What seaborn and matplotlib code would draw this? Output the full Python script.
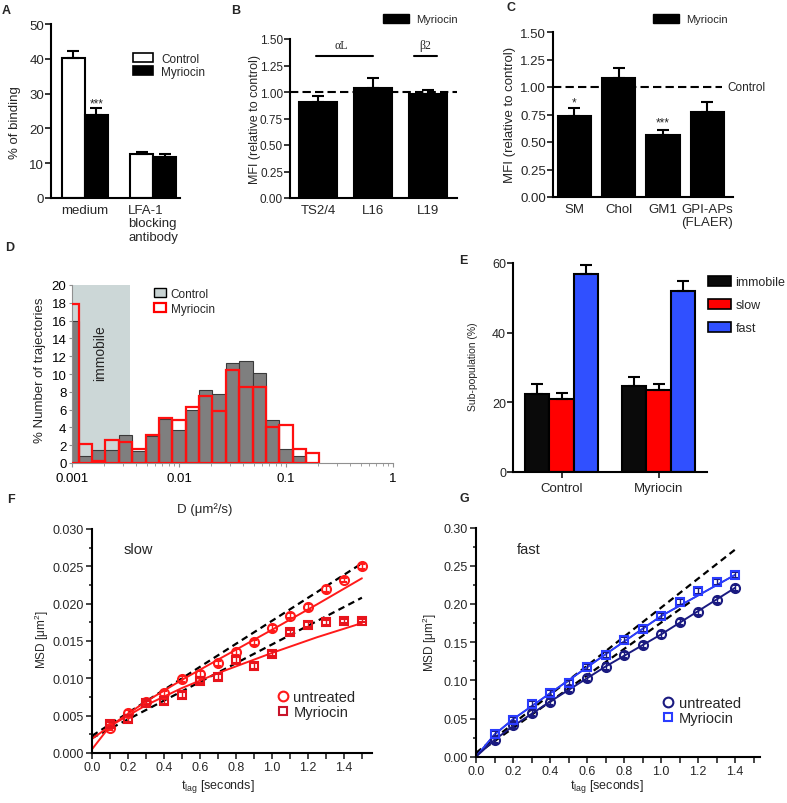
import numpy as np
import pandas as pd
import matplotlib
matplotlib.use("Agg")
import matplotlib.pyplot as plt
import seaborn as sns
from matplotlib.patches import Patch
from matplotlib.lines import Line2D
from matplotlib.ticker import MultipleLocator, FixedLocator, FixedFormatter, FormatStrFormatter

# ------------------------------------------------------------
# Data
# ------------------------------------------------------------
# A - binding
a_groups = ['medium', 'LFA-1\nblocking\nantibody']
a_control = [40.1, 12.6]
a_control_err = [2.0, 0.5]
a_myriocin = [23.8, 11.9]
a_myriocin_err = [2.0, 0.65]

# B - integrin antibodies
b_labels = ['TS2/4', 'L16', 'L19']
b_values = [0.91, 1.035, 0.98]
b_err = [0.05, 0.095, 0.04]

# C - lipids
c_labels = ['SM', 'Chol', 'GM1', 'GPI-APs\n(FLAER)']
c_values = [0.74, 1.08, 0.56, 0.77]
c_err = [0.07, 0.09, 0.045, 0.095]

# D - histogram of diffusion coefficients (8 bins per decade)
d_control = [15.9, 0.75, 1.5, 1.5, 3.1, 1.4, 3.0, 5.0, 3.7, 5.9, 8.25, 7.8,
             11.2, 11.5, 10.1, 4.8, 1.6, 0.8, 0.0]
d_myriocin = [17.9, 2.1, 0.2, 2.6, 2.4, 1.6, 3.1, 5.1, 4.85, 6.3, 7.5, 5.8,
              10.5, 8.5, 8.5, 4.1, 4.3, 1.6, 1.1]

# E - sub-populations
e_groups = ['Control', 'Myriocin']
e_kinds = ['immobile', 'slow', 'fast']
e_immobile = [22.3, 24.6]
e_immobile_err = [3.0, 2.6]
e_slow = [20.9, 23.4]
e_slow_err = [1.9, 2.0]
e_fast = [56.9, 52.1]
e_fast_err = [2.4, 2.6]

# F - MSD slow
f_t = [0.1, 0.2, 0.3, 0.4, 0.5, 0.6, 0.7, 0.8, 0.9, 1.0, 1.1, 1.2, 1.3, 1.4, 1.5]
f_untreated = [0.0034, 0.0053, 0.0068, 0.0080, 0.0099, 0.0106, 0.0120, 0.0135,
               0.0148, 0.0168, 0.0184, 0.0195, 0.0219, 0.0232, 0.0250]
f_untreated_err = [0.0003, 0.0004, 0.0003, 0.0003, 0.0004, 0.0004, 0.0003, 0.0004,
                   0.0004, 0.0004, 0.0003, 0.0004, 0.0004, 0.0003, 0.0003]
f_myriocin = [0.0039, 0.0045, 0.0067, 0.0069, 0.0078, 0.0097, 0.0102, 0.0124,
              0.0117, 0.0133, 0.0162, 0.0172, 0.0175, 0.0177, 0.0177]
f_myriocin_err = [0.0003, 0.0003, 0.0003, 0.0003, 0.0004, 0.0003, 0.0004, 0.0004,
                  0.0004, 0.0003, 0.0003, 0.0003, 0.0003, 0.0003, 0.0002]
f_fit_t = [0.0, 0.1, 0.3, 0.5, 0.7, 1.0, 1.25, 1.5]
f_fit_untreated = [0.0005, 0.0036, 0.0069, 0.0098, 0.0125, 0.0165, 0.0199, 0.0234]
f_fit_myriocin = [0.0019, 0.0036, 0.0064, 0.0087, 0.0107, 0.0134, 0.0155, 0.0174]
f_lin_t = [0.0, 1.5]
f_lin_untreated = [0.0023, 0.0254]
f_lin_myriocin = [0.0020, 0.0208]

# G - MSD fast
g_t = [0.1, 0.2, 0.3, 0.4, 0.5, 0.6, 0.7, 0.8, 0.9, 1.0, 1.1, 1.2, 1.3, 1.4]
g_untreated = [0.022, 0.041, 0.057, 0.072, 0.089, 0.103, 0.118, 0.133, 0.146,
               0.160, 0.176, 0.189, 0.205, 0.221]
g_untreated_err = [0.004, 0.004, 0.004, 0.004, 0.004, 0.004, 0.004, 0.004, 0.004,
                   0.004, 0.004, 0.004, 0.004, 0.004]
g_myriocin = [0.030, 0.048, 0.069, 0.083, 0.097, 0.117, 0.133, 0.153, 0.167,
              0.184, 0.203, 0.217, 0.229, 0.238]
g_myriocin_err = [0.004, 0.004, 0.004, 0.004, 0.004, 0.004, 0.004, 0.004, 0.004,
                  0.004, 0.004, 0.004, 0.004, 0.004]
g_fit_t = [0.0, 0.1, 0.2, 0.4, 0.7, 1.0, 1.4]
g_fit_untreated = [0.0, 0.022, 0.040, 0.072, 0.118, 0.160, 0.221]
g_fit_myriocin = [0.0, 0.029, 0.049, 0.083, 0.134, 0.184, 0.238]
g_lin1_t = [0.0, 1.4]
g_lin1 = [0.005, 0.271]
g_lin2_t = [0.0, 1.16]
g_lin2 = [0.003, 0.203]

# ------------------------------------------------------------
# Layout helpers (pixel -> figure fraction)
# ------------------------------------------------------------
W, H = 787, 804


def rect(l, t, r, b):
    return [l / W, 1 - b / H, (r - l) / W, (b - t) / H]


def fxy(x, y):
    return (x / W, 1 - y / H)


sns.set_style("ticks")
plt.rcParams['font.family'] = ['Liberation Sans', 'DejaVu Sans']
plt.rcParams['mathtext.fontset'] = 'custom'
plt.rcParams['mathtext.rm'] = 'Liberation Sans'
plt.rcParams['mathtext.it'] = 'Liberation Sans:italic'

fig = plt.figure(figsize=(7.87, 8.04), dpi=100)


def bar_axes(ax, ysize=9.5, xsize=9.5):
    sns.despine(ax=ax)
    for s in ['left', 'bottom']:
        ax.spines[s].set_linewidth(1.5)
        ax.spines[s].set_color('black')
    ax.tick_params(axis='y', direction='out', length=4, width=1.3, labelsize=ysize, pad=1)
    ax.tick_params(axis='x', length=0, labelsize=xsize, pad=4)
    ax.set_xlabel('')
    ax.set_ylabel('')


def add_errs(ax, containers, errs):
    for cont, ee in zip(containers, errs):
        for bar, e in zip(cont, ee):
            x = bar.get_x() + bar.get_width() / 2
            ax.errorbar(x, bar.get_height(), yerr=[[0], [e]], color='black',
                        capsize=4, capthick=1.5, elinewidth=1.5, zorder=1)


def letter(x, y, s):
    fig.text(*fxy(x, y), s, fontsize=9, fontweight='bold', ha='left', va='center')


def ylab(x, y, s, size):
    fig.text(*fxy(x, y), s, rotation=90, ha='center', va='center', fontsize=size)


# ============================================================
# A
# ============================================================
axA = fig.add_axes(rect(51, 25, 180, 199))
dfA = pd.DataFrame({
    'group': a_groups * 2,
    'treat': ['Control'] * 2 + ['Myriocin'] * 2,
    'value': a_control + a_myriocin,
})
sns.barplot(data=dfA, x='group', y='value', hue='treat',
            palette={'Control': 'white', 'Myriocin': 'black'},
            edgecolor='black', linewidth=1.5, width=0.67, saturation=1,
            errorbar=None, legend=False, ax=axA)
add_errs(axA, axA.containers, [a_control_err, a_myriocin_err])
axA.set_xlim(-0.49, 1.39)
axA.set_ylim(0, 50)
axA.set_yticks(range(0, 51, 10))
bar_axes(axA)
for lab in axA.get_xticklabels():
    lab.set_multialignment('left')
axA.text(0.17, 26.3, '***', ha='center', va='baseline', fontsize=8.5)
fig.legend(handles=[Patch(facecolor='white', edgecolor='black', lw=1.2, label='Control'),
                    Patch(facecolor='black', edgecolor='black', lw=1.2, label='Myriocin')],
           loc='upper left', bbox_to_anchor=fxy(133, 54), frameon=False, fontsize=8.5,
           borderpad=0, borderaxespad=0, handlelength=1.7, handleheight=0.8,
           handletextpad=0.7, labelspacing=0.05)
ylab(15, 123, '% of binding', 9.5)
letter(2, 11, 'A')

# ============================================================
# B
# ============================================================
axB = fig.add_axes(rect(290, 40, 457, 199))
sns.barplot(x=b_labels, y=b_values, color='black', width=0.69, saturation=1,
            edgecolor='black', linewidth=1.5, errorbar=None, ax=axB)
add_errs(axB, axB.containers, [b_err])
axB.axhline(1.0, color='black', lw=1.5, ls=(0, (4, 2)), zorder=0.5)
axB.set_xlim(-0.51, 2.53)
axB.set_ylim(0, 1.5)
axB.set_yticks(np.arange(0, 1.51, 0.25))
axB.yaxis.set_major_formatter(FormatStrFormatter('%.2f'))
bar_axes(axB, ysize=8.5)
axB.plot([-0.04, 1.0], [1.336, 1.336], color='black', lw=1.5)
axB.plot([1.745, 2.163], [1.336, 1.336], color='black', lw=1.5)
axB.text(0.42, 1.44, 'αL', family='Liberation Serif', ha='center', va='center', fontsize=8.5)
axB.text(1.95, 1.44, 'β2', family='Liberation Serif', ha='center', va='center', fontsize=8.5)
fig.legend(handles=[Patch(facecolor='black', edgecolor='black', label='Myriocin')],
           loc='upper left', bbox_to_anchor=fxy(383, 15), frameon=False, fontsize=8,
           borderpad=0, borderaxespad=0, handlelength=2.3, handleheight=0.9,
           handletextpad=0.7)
ylab(255, 120, 'MFI (relative to control)', 9)
letter(231, 11, 'B')

# ============================================================
# C
# ============================================================
axC = fig.add_axes(rect(553, 33, 733, 198))
sns.barplot(x=c_labels, y=c_values, color='black', width=0.75, saturation=1,
            edgecolor='black', linewidth=1.5, errorbar=None, ax=axC)
add_errs(axC, axC.containers, [c_err])
axC.set_xlim(-0.485, 3.58)
axC.axhline(1.0, xmax=0.94, color='black', lw=1.5, ls=(0, (4, 2)), zorder=0.5)
axC.set_ylim(0, 1.5)
axC.set_yticks(np.arange(0, 1.51, 0.25))
axC.yaxis.set_major_formatter(FormatStrFormatter('%.2f'))
bar_axes(axC)
axC.text(3.46, 1.0, 'Control', ha='left', va='center', fontsize=8.5, clip_on=False)
axC.text(0, 0.83, '*', ha='center', va='baseline', fontsize=8.5)
axC.text(2, 0.647, '***', ha='center', va='baseline', fontsize=8.5)
fig.legend(handles=[Patch(facecolor='black', edgecolor='black', label='Myriocin')],
           loc='upper left', bbox_to_anchor=fxy(653, 15), frameon=False, fontsize=8,
           borderpad=0, borderaxespad=0, handlelength=2.3, handleheight=0.9,
           handletextpad=0.7)
ylab(510, 115, 'MFI (relative to control)', 9.5)
letter(507, 8, 'C')

# ============================================================
# D
# ============================================================
axD = fig.add_axes(rect(72, 286, 393, 464))
axD.set_xscale('log')
n_bins = len(d_control)
log_edges = -3 - 1 / 16 + np.arange(n_bins + 1) / 8
edges = 10 ** log_edges
axD.axvspan(0.001, 0.0035, color='#ccd7d7', lw=0, zorder=0)
axD.bar(edges[:-1], d_control, width=np.diff(edges), align='edge',
        color='#7f7f7f', edgecolor='#3a3a3a', linewidth=0.8, zorder=2)
axD.bar(edges[:-1], d_myriocin, width=np.diff(edges), align='edge',
        fill=False, edgecolor='#ff1010', linewidth=1.6, zorder=3)
axD.set_xlim(0.001, 1)
axD.set_ylim(0, 20)
axD.set_yticks(range(0, 21, 2))
axD.xaxis.set_major_locator(FixedLocator([0.001, 0.01, 0.1, 1]))
axD.xaxis.set_major_formatter(FixedFormatter(['0.001', '0.01', '0.1', '1']))
sns.despine(ax=axD)
for s in ['left', 'bottom']:
    axD.spines[s].set_color('#909090')
    axD.spines[s].set_linewidth(0.8)
axD.tick_params(axis='both', which='both', colors='#909090', labelcolor='black',
                labelsize=9.5, direction='out')
axD.tick_params(axis='y', length=2, pad=2)
axD.tick_params(axis='x', which='major', length=3)
axD.tick_params(axis='x', which='minor', length=2)
axD.text(0.00185, 12.5, 'immobile', rotation=90, ha='center', va='center', fontsize=10)
fig.legend(handles=[Patch(facecolor='#c8d3d3', edgecolor='black', lw=1.0, label='Control'),
                    Patch(facecolor='white', edgecolor='red', lw=1.6, label='Myriocin')],
           loc='upper left', bbox_to_anchor=fxy(154, 289), frameon=False, fontsize=8.5,
           borderpad=0, borderaxespad=0, handlelength=1.0, handleheight=0.8,
           handletextpad=0.4, labelspacing=0.25)
ylab(40, 370, '% Number of trajectories', 9.5)
fig.text(*fxy(205, 510), 'D (μm²/s)', ha='center', va='center', fontsize=9.5)
letter(5, 248, 'D')

# ============================================================
# E
# ============================================================
axE = fig.add_axes(rect(513, 264, 707, 473))
dfE = pd.DataFrame({
    'group': e_groups * 3,
    'kind': [k for k in e_kinds for _ in e_groups],
    'value': e_immobile + e_slow + e_fast,
})
sns.barplot(data=dfE, x='group', y='value', hue='kind', hue_order=e_kinds,
            palette={'immobile': '#0a0a0a', 'slow': '#ff0000', 'fast': '#3050ff'},
            edgecolor='black', linewidth=1.5, width=0.75, saturation=1,
            errorbar=None, legend=False, ax=axE)
add_errs(axE, axE.containers, [e_immobile_err, e_slow_err, e_fast_err])
axE.set_xlim(-0.5, 1.5)
axE.set_ylim(0, 60)
axE.set_yticks([0, 20, 40, 60])
bar_axes(axE, ysize=9, xsize=9.5)
axE.tick_params(axis='x', length=4, width=1.3, direction='out', pad=3)
fig.legend(handles=[Patch(facecolor='#0a0a0a', edgecolor='black', lw=1.2, label='immobile'),
                    Patch(facecolor='#ff0000', edgecolor='black', lw=1.2, label='slow'),
                    Patch(facecolor='#3050ff', edgecolor='black', lw=1.2, label='fast')],
           loc='upper left', bbox_to_anchor=fxy(708, 277), frameon=False, fontsize=9,
           borderpad=0, borderaxespad=0, handlelength=1.8, handleheight=0.85,
           handletextpad=0.4, labelspacing=0.85)
ylab(473, 367, 'Sub-population (%)', 7.5)
letter(459, 261, 'E')


# ============================================================
# F / G MSD panels
# ============================================================
def msd_axes(ax, ymax, ystep, yfmt, xmax):
    sns.despine(ax=ax)
    for s in ['left', 'bottom']:
        ax.spines[s].set_linewidth(1.5)
        ax.spines[s].set_color('black')
    ax.set_xlim(0, xmax)
    ax.set_ylim(0, ymax)
    ax.xaxis.set_major_locator(MultipleLocator(0.2))
    ax.xaxis.set_minor_locator(MultipleLocator(0.1))
    ax.yaxis.set_major_locator(MultipleLocator(ystep))
    ax.yaxis.set_minor_locator(MultipleLocator(ystep / 2))
    ax.xaxis.set_major_formatter(FormatStrFormatter('%.1f'))
    ax.yaxis.set_major_formatter(FormatStrFormatter(yfmt))
    ax.tick_params(axis='both', which='both', direction='out', width=1.2, labelsize=9, pad=2)
    ax.tick_params(axis='both', which='major', length=4)
    ax.tick_params(axis='y', which='minor', length=2)
    ax.tick_params(axis='x', which='minor', length=4)
    ax.set_xlabel('')
    ax.set_ylabel('')


# F
axF = fig.add_axes(rect(92, 530, 372, 754))
sns.lineplot(x=f_lin_t, y=f_lin_untreated, color='black', lw=1.6, ax=axF,
             linestyle=(0, (3, 2)))
sns.lineplot(x=f_lin_t, y=f_lin_myriocin, color='black', lw=1.6, ax=axF,
             linestyle=(0, (3, 2)))
sns.lineplot(x=f_fit_t, y=f_fit_untreated, color='#ff1a1a', lw=1.4, ax=axF)
sns.lineplot(x=f_fit_t, y=f_fit_myriocin, color='#ff1a1a', lw=1.4, ax=axF)
axF.errorbar(f_t, f_untreated, yerr=f_untreated_err, fmt='o', ms=6.5, mfc='none',
             mec='#ff1a1a', mew=1.5, ecolor='#ff1a1a', elinewidth=1, capsize=2.5, zorder=4)
axF.errorbar(f_t, f_myriocin, yerr=f_myriocin_err, fmt='s', ms=6, mfc='none',
             mec='#e8141c', mew=1.5, ecolor='#e8141c', elinewidth=1, capsize=2.5, zorder=4)
msd_axes(axF, 0.030, 0.005, '%.3f', 1.556)
fig.text(*fxy(124, 550), 'slow', ha='left', va='center', fontsize=10.5)
fig.legend(handles=[Line2D([], [], ls='none', marker='o', ms=7, mfc='none', mec='#ff1a1a',
                           mew=1.5, label='untreated'),
                    Line2D([], [], ls='none', marker='s', ms=6, mfc='none', mec='#c8142a',
                           mew=1.5, label='Myriocin')],
           loc='upper left', bbox_to_anchor=fxy(276, 691), frameon=False, fontsize=10.5,
           borderpad=0, borderaxespad=0, handlelength=0.9, handletextpad=0.3,
           labelspacing=0.1)
ylab(42, 640, 'MSD [μm$^2$]', 8.5)
fig.text(*fxy(218, 787), r'$\mathregular{t_{lag}}$ [seconds]', ha='center', va='center', fontsize=9)
letter(7, 500, 'F')

# G
axG = fig.add_axes(rect(476, 528.5, 760, 757.7))
sns.lineplot(x=g_lin1_t, y=g_lin1, color='black', lw=1.6, ax=axG, linestyle=(0, (3, 2)))
sns.lineplot(x=g_lin2_t, y=g_lin2, color='black', lw=1.6, ax=axG, linestyle=(0, (3, 2)))
sns.lineplot(x=g_fit_t, y=g_fit_myriocin, color='#111111', lw=1.0, ax=axG)
sns.lineplot(x=g_fit_t, y=g_fit_myriocin, color='#2a3cff', lw=1.4, ax=axG)
sns.lineplot(x=g_fit_t, y=g_fit_untreated, color='#1a1a80', lw=1.4, ax=axG)
axG.errorbar(g_t, g_untreated, yerr=g_untreated_err, fmt='o', ms=6.5, mfc='none',
             mec='#1a1a80', mew=1.5, ecolor='#1a1a80', elinewidth=1, capsize=2.5, zorder=4)
axG.errorbar(g_t, g_myriocin, yerr=g_myriocin_err, fmt='s', ms=6, mfc='none',
             mec='#2a3cff', mew=1.5, ecolor='#1a1a80', elinewidth=1, capsize=2.5, zorder=4)
msd_axes(axG, 0.30, 0.05, '%.2f', 1.535)
fig.text(*fxy(517, 550), 'fast', ha='left', va='center', fontsize=10.5)
fig.legend(handles=[Line2D([], [], ls='none', marker='o', ms=7, mfc='none', mec='#1a1a80',
                           mew=1.5, label='untreated'),
                    Line2D([], [], ls='none', marker='s', ms=6, mfc='none', mec='#2a3cff',
                           mew=1.5, label='Myriocin')],
           loc='upper left', bbox_to_anchor=fxy(661, 697), frameon=False, fontsize=10.5,
           borderpad=0, borderaxespad=0, handlelength=0.9, handletextpad=0.3,
           labelspacing=0.05)
ylab(430, 643, 'MSD [μm$^2$]', 8.5)
fig.text(*fxy(607, 787), r'$\mathregular{t_{lag}}$ [seconds]', ha='center', va='center', fontsize=9)
letter(460, 499, 'G')

fig.savefig("out.png", dpi=100)
plt.close(fig)
